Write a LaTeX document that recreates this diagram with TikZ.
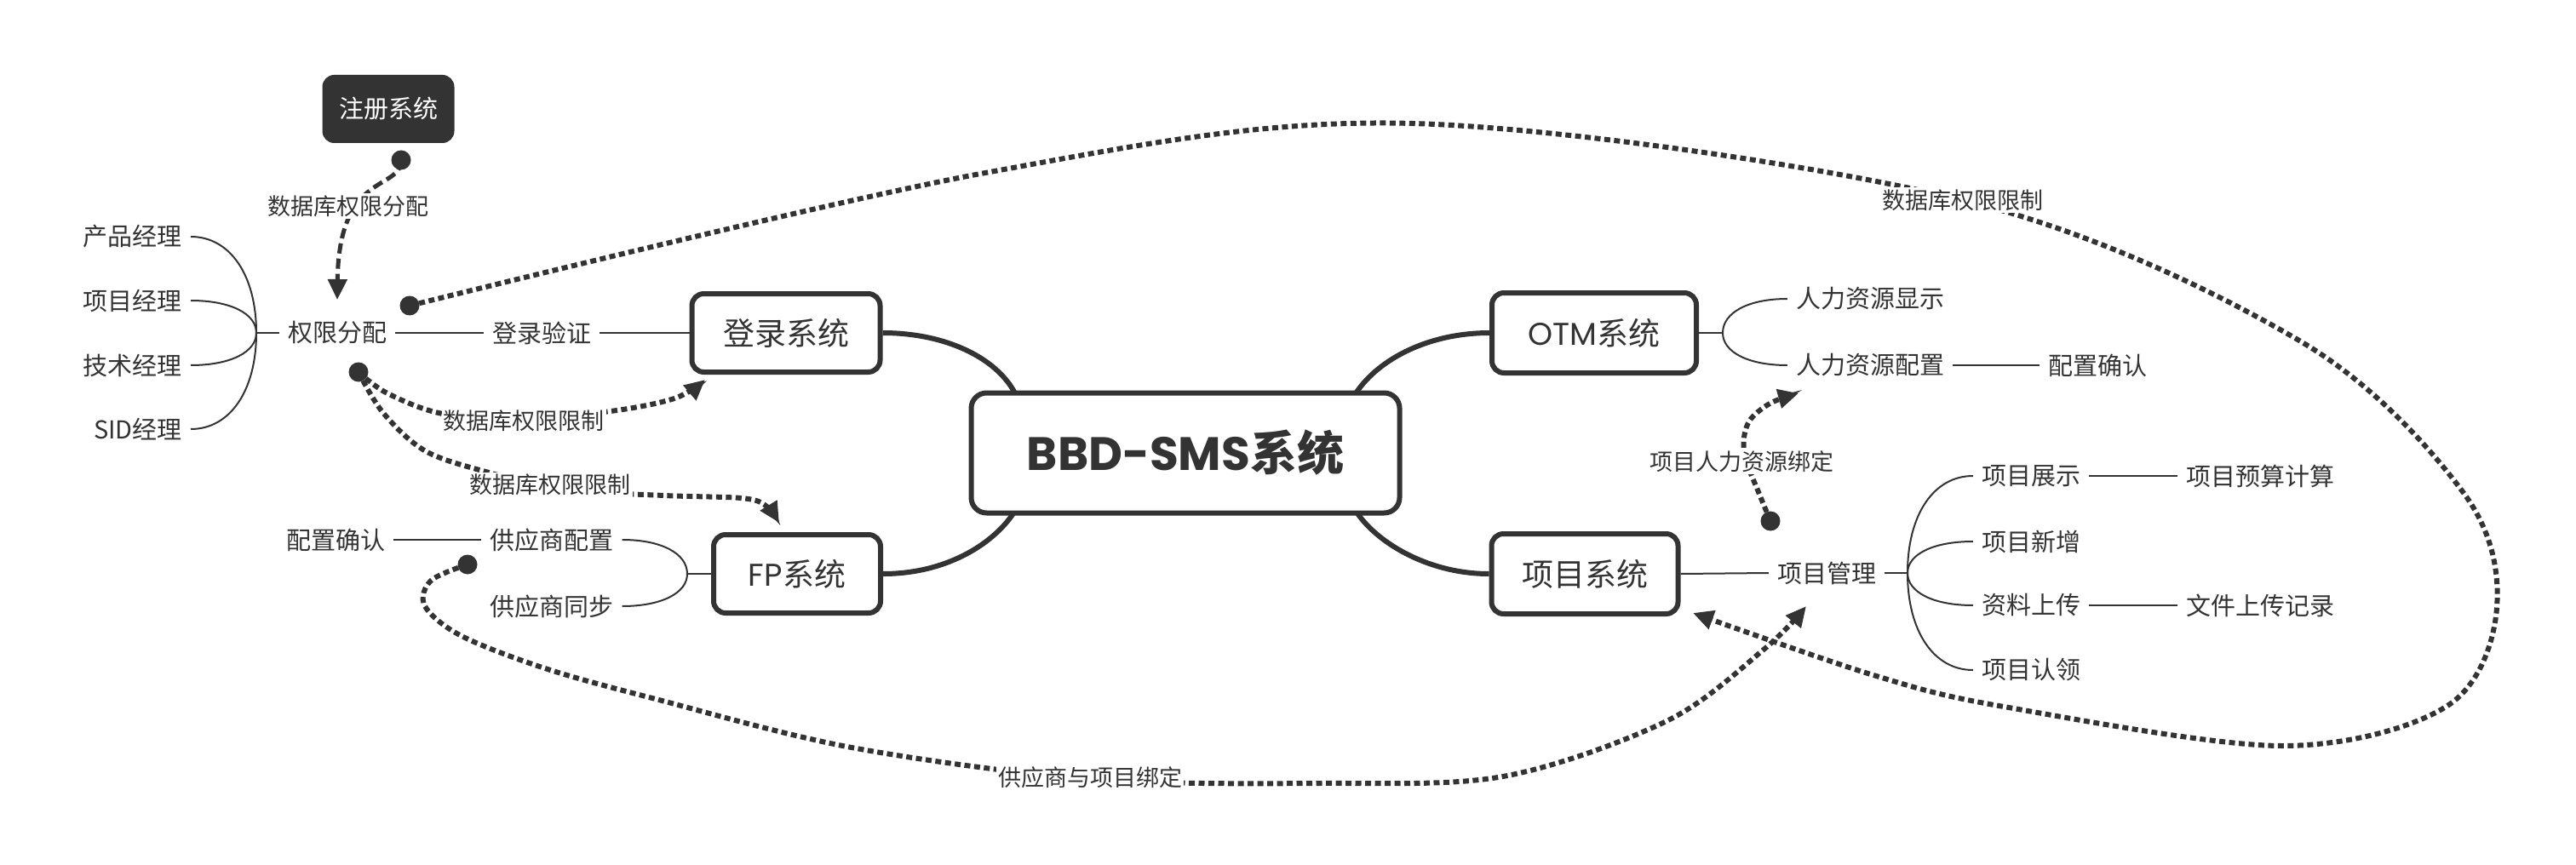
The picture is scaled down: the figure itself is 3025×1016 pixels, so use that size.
\documentclass[tikz,border=0pt]{standalone}
\usepackage{fontspec}
\setmainfont{Noto Sans CJK SC}
\newfontfamily\pop{Poppins}
\usetikzlibrary{arrows.meta,backgrounds,calc}
\definecolor{ink}{HTML}{333333}
\newcommand\fsz[1]{\fontsize{#1}{#1}\selectfont}
\newcommand\brc[2]{\draw[thinln] (#1) .. controls ($(#1)!.6!(#1|-#2)$) and ($(#2)!.6!(#1|-#2)$) .. (#2);}
\begin{document}
\begin{tikzpicture}[x=1pt,y=-1pt,
  every node/.style={text=ink},
  item/.style={font=\fsz{29}, inner xsep=10pt, inner ysep=4pt},
  rlabel/.style={font=\fsz{27}, fill=white, inner sep=2pt},
  sysbox/.style={draw=ink, line width=6pt, rounded corners=14pt, fill=white, font=\fsz{37}},
  thinln/.style={draw=ink, line width=2pt},
  thickln/.style={draw=ink, line width=6pt},
  rel/.style={draw=ink, line width=6pt, dash pattern=on 7pt off 4.5pt, -{Triangle[length=24pt,width=22pt]}},
  relA/.style={rel, line width=5pt, dash pattern=on 12pt off 6pt},
  dotnode/.style={circle, fill=ink, minimum size=23pt, inner sep=0pt},
]
\useasboundingbox (0,0) rectangle (3025,1016);

% main boxes
\node[sysbox, rounded corners=18pt, minimum width=503pt, minimum height=141pt, font=\bfseries\fsz{55}] (bbd) at (1392,532) {{\pop BBD-SMS}系统};
\node[sysbox, minimum width=221pt, minimum height=92pt] (login) at (923,391) {登录系统};
\node[sysbox, minimum width=196pt, minimum height=92pt] (fp) at (936,674) {{\pop FP}系统};
\node[sysbox, minimum width=240pt, minimum height=94pt] (otm) at (1872,391) {{\pop OTM}系统};
\node[sysbox, minimum width=219pt, minimum height=94pt] (proj) at (1861,674) {项目系统};
\node[fill=ink, rounded corners=14pt, minimum width=155pt, minimum height=80pt, text=white, font=\fsz{29}] (reg) at (456,128) {注册系统};

% left branch
\node[item] (qx) at (396,391) {权限分配};
\node[item] (dlyz) at (636,391) {登录验证};
\node[item, anchor=east] (pm) at (224,278) {产品经理};
\node[item, anchor=east] (xm) at (224,353) {项目经理};
\node[item, anchor=east] (js) at (224,429) {技术经理};
\node[item, anchor=east] (sid) at (224,504) {SID经理};
\coordinate (j1) at (301,391);
\draw[thinln] (qx.west) -- (j1);
\brc{j1}{pm.east}
\brc{j1}{xm.east}
\brc{j1}{js.east}
\brc{j1}{sid.east}
\draw[thinln] (qx.east) -- (dlyz.west);
\draw[thinln] (dlyz.east) -- (login.west);

% FP branch
\node[item] (gyspz) at (648,634) {供应商配置};
\node[item] (gystb) at (648,712) {供应商同步};
\node[item] (pzqra) at (394,634) {配置确认};
\coordinate (j2) at (807,674);
\draw[thinln] (fp.west) -- (j2);
\brc{j2}{gyspz.east}
\brc{j2}{gystb.east}
\draw[thinln] (pzqra.east) -- (gyspz.west);

% OTM branch
\node[item] (rlxs) at (2196,351) {人力资源显示};
\node[item] (rlpz) at (2196,429) {人力资源配置};
\node[item] (pzqrb) at (2463,429) {配置确认};
\coordinate (j3) at (2023,391);
\draw[thinln] (otm.east) -- (j3);
\brc{j3}{rlxs.west}
\brc{j3}{rlpz.west}
\draw[thinln] (rlpz.east) -- (pzqrb.west);

% project branch
\node[item] (xmgl) at (2145,673) {项目管理};
\node[item] (xmzs) at (2385,559) {项目展示};
\node[item] (xmxz) at (2385,636) {项目新增};
\node[item] (zlsc) at (2385,711) {资料上传};
\node[item] (xmrl) at (2385,787) {项目认领};
\node[item] (ysjs) at (2654,559) {项目预算计算};
\node[item] (wjsc) at (2654,711) {文件上传记录};
\coordinate (j4) at (2240,673);
\draw[thinln] (proj.east) -- (xmgl.west);
\draw[thinln] (xmgl.east) -- (j4);
\brc{j4}{xmzs.west}
\brc{j4}{xmxz.west}
\brc{j4}{zlsc.west}
\brc{j4}{xmrl.west}
\draw[thinln] (xmzs.east) -- (ysjs.west);
\draw[thinln] (zlsc.east) -- (wjsc.west);

% background: white + thick connectors
\begin{scope}[on background layer]
\fill[white] (0,0) rectangle (3025,1016);
\draw[thickln] (login.east) .. controls (1110,391) and (1170,420) .. (1192,462);
\draw[thickln] (fp.east) .. controls (1110,674) and (1165,640) .. (1190,603);
\draw[thickln] (otm.west) .. controls (1680,391) and (1620,420) .. (1592,462);
\draw[thickln] (proj.west) .. controls (1680,674) and (1620,640) .. (1594,603);
\end{scope}

% relationship dots and tips
\node[dotnode] (d0) at (471,188) {};
\node[dotnode] (d1) at (481,359) {};
\node[dotnode] (d2) at (421,437) {};
\node[dotnode] (d3) at (549,663) {};
\node[dotnode] (d4) at (2079,612) {};
\coordinate (t0) at (396,352);
\coordinate (t1) at (1988,720);
\coordinate (t2) at (828,446);
\coordinate (t3) at (915,614);
\coordinate (t4) at (2121,712);
\coordinate (t5) at (2112,462);

\draw[relA] (d0.center) .. controls (470,225) and (398,200) .. (t0);
\draw[rel] plot[smooth, tension=0.55] coordinates {(d1.center) (1157,203) (1659,145) (2305,235) (2700,400) (2893,579) (2932,714) (2874,829) (2680,876) (2353,830) (2200,793) (t1)};
\draw[rel] plot[smooth, tension=0.55] coordinates {(d2.center) (455,462) (520,486) (615,491) (717,483) (792,468) (t2)};
\draw[rel] plot[smooth, tension=0.55] coordinates {(d2.center) (450,485) (500,530) (574,555) (660,575) (780,582) (870,585) (898,593) (t3)};
\draw[rel] plot[smooth, tension=0.55] coordinates {(d3.center) (506,682) (499,712) (542,747) (640,785) (766,820) (1000,878) (1280,915) (1550,920) (1765,912) (1957,847) (2071,763) (t4)};
\draw[rel] plot[smooth, tension=0.55] coordinates {(d4.center) (2065,578) (2050,540) (2048,514) (2056,492) (2080,473) (t5)};

% relationship labels
\node[rlabel] (l0) at (409,242) {数据库权限分配};
\node[rlabel] (l1) at (2305,235) {数据库权限限制};
\node[rlabel] (l2) at (615,494) {数据库权限限制};
\node[rlabel] (l3) at (646,569) {数据库权限限制};
\node[rlabel] (l4) at (1280,913) {供应商与项目绑定};
\node[rlabel] (l5) at (2045,542) {项目人力资源绑定};
\end{tikzpicture}
\end{document}
